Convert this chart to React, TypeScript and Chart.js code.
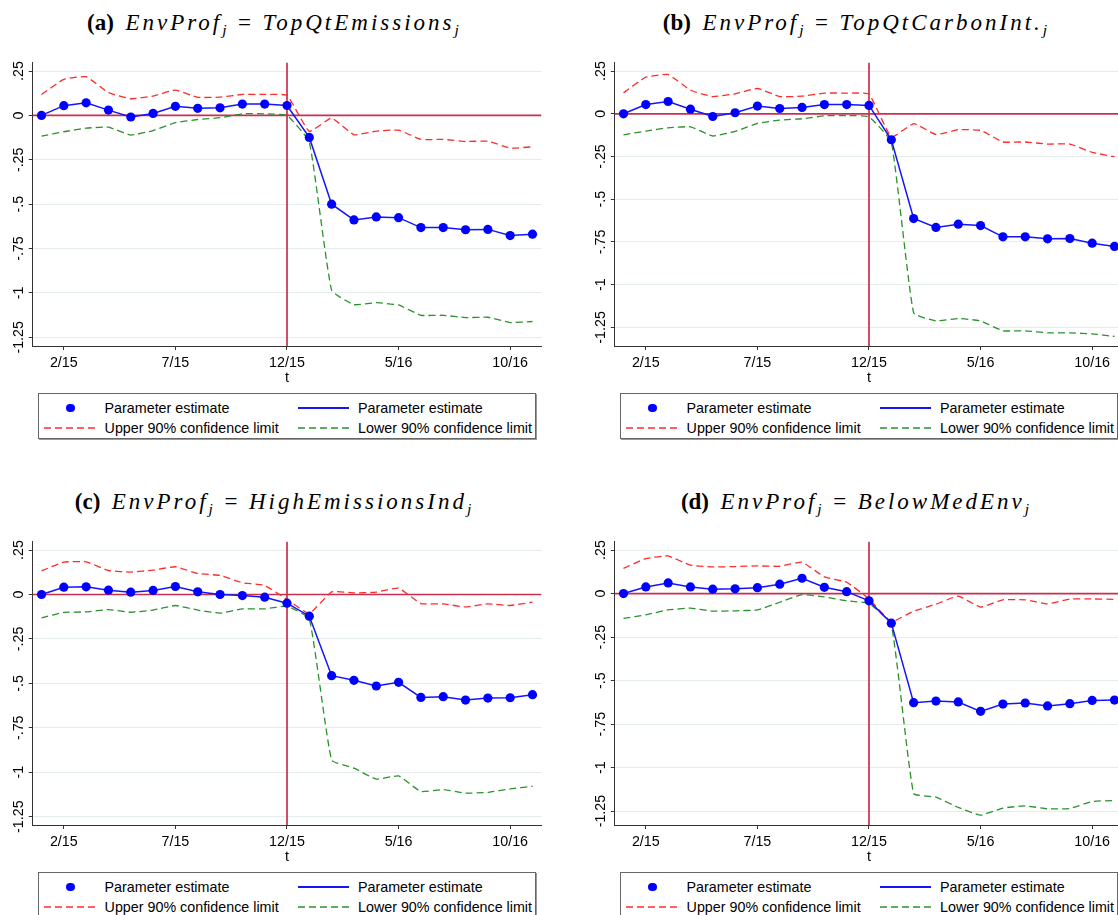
import React, { useEffect, useRef } from "react";
import { Chart, registerables } from "chart.js";

Chart.register(...registerables);

// ---------- categories / ticks ----------
const months = [
  "1/15", "2/15", "3/15", "4/15", "5/15", "6/15", "7/15", "8/15", "9/15", "10/15", "11/15", "12/15",
  "1/16", "2/16", "3/16", "4/16", "5/16", "6/16", "7/16", "8/16", "9/16", "10/16", "11/16",
];
const xTickMonths = ["2/15", "7/15", "12/15", "5/16", "10/16"];
const eventMonth = "12/15";
const zeroValue = 0;
const yTickValues = [0.25, 0, -0.25, -0.5, -0.75, -1, -1.25];
const yTickLabels = [".25", "0", "-.25", "-.5", "-.75", "-1", "-1.25"];
const xAxisTitle = "t";
const legendLabels = [
  "Parameter estimate",
  "Parameter estimate",
  "Upper 90% confidence limit",
  "Lower 90% confidence limit",
];

// ---------- panel (a) ----------
const estA = [0, 0.055, 0.071, 0.03, -0.009, 0.011, 0.051, 0.04, 0.043, 0.064, 0.064, 0.056, -0.124, -0.5, -0.589, -0.572, -0.576, -0.632, -0.632, -0.644, -0.642, -0.677, -0.669];
const upperA = [0.118, 0.203, 0.218, 0.128, 0.094, 0.109, 0.143, 0.102, 0.103, 0.118, 0.118, 0.113, -0.09, -0.015, -0.109, -0.088, -0.083, -0.135, -0.135, -0.147, -0.145, -0.184, -0.177];
const lowerA = [-0.117, -0.092, -0.072, -0.066, -0.111, -0.085, -0.041, -0.023, -0.013, 0.009, 0.009, 0.0, -0.15, -0.986, -1.066, -1.055, -1.068, -1.126, -1.126, -1.139, -1.137, -1.167, -1.161];

// ---------- panel (b) ----------
const estB = [0, 0.054, 0.072, 0.027, -0.016, 0.006, 0.045, 0.031, 0.037, 0.054, 0.054, 0.049, -0.152, -0.613, -0.665, -0.646, -0.654, -0.72, -0.72, -0.732, -0.73, -0.757, -0.776];
const upperB = [0.123, 0.214, 0.23, 0.138, 0.101, 0.117, 0.148, 0.101, 0.103, 0.121, 0.121, 0.115, -0.136, -0.058, -0.121, -0.093, -0.097, -0.165, -0.165, -0.177, -0.177, -0.226, -0.251];
const lowerB = [-0.123, -0.101, -0.082, -0.076, -0.13, -0.103, -0.056, -0.037, -0.029, -0.012, -0.01, -0.018, -0.166, -1.165, -1.212, -1.198, -1.212, -1.27, -1.27, -1.282, -1.282, -1.288, -1.303];

// ---------- panel (c) ----------
const estC = [0, 0.041, 0.043, 0.024, 0.013, 0.023, 0.045, 0.015, 0.0, -0.006, -0.015, -0.049, -0.122, -0.457, -0.483, -0.515, -0.494, -0.579, -0.575, -0.594, -0.583, -0.581, -0.564];
const upperC = [0.133, 0.182, 0.184, 0.135, 0.126, 0.137, 0.156, 0.118, 0.107, 0.066, 0.051, -0.028, -0.107, 0.015, 0.009, 0.013, 0.036, -0.051, -0.053, -0.07, -0.053, -0.062, -0.043];
const lowerC = [-0.132, -0.101, -0.098, -0.085, -0.1, -0.088, -0.062, -0.088, -0.105, -0.081, -0.081, -0.066, -0.137, -0.932, -0.977, -1.039, -1.021, -1.109, -1.098, -1.118, -1.113, -1.094, -1.079];

// ---------- panel (d) ----------
const estD = [0, 0.038, 0.061, 0.038, 0.025, 0.027, 0.034, 0.054, 0.088, 0.036, 0.011, -0.042, -0.17, -0.627, -0.618, -0.623, -0.677, -0.635, -0.629, -0.646, -0.633, -0.614, -0.612];
const upperD = [0.145, 0.201, 0.216, 0.163, 0.153, 0.155, 0.159, 0.157, 0.18, 0.096, 0.065, -0.031, -0.161, -0.101, -0.061, -0.015, -0.078, -0.036, -0.036, -0.059, -0.031, -0.031, -0.033];
const lowerD = [-0.143, -0.122, -0.094, -0.084, -0.101, -0.099, -0.094, -0.05, -0.006, -0.019, -0.042, -0.057, -0.179, -1.149, -1.17, -1.229, -1.273, -1.233, -1.22, -1.237, -1.235, -1.195, -1.189];

// ---------- panel descriptions ----------
const panelLetters = ["a", "b", "c", "d"];
const panelRhs = ["TopQtEmissions", "TopQtCarbonInt.", "HighEmissionsInd", "BelowMedEnv"];
const panelLhs = "EnvProf";
const panelSub = "j";
const panelEst = [estA, estB, estC, estD];
const panelUpper = [upperA, upperB, upperC, upperD];
const panelLower = [lowerA, lowerB, lowerC, lowerD];
const panelYMin = [-1.299, -1.359, -1.297, -1.33];
const panelYMax = [0.297, 0.299, 0.297, 0.298];

const SANS = '"Liberation Sans", Arial, Helvetica, sans-serif';
const SERIF = '"Liberation Serif", "Times New Roman", serif';
const TICK_SIZE = 14.3;

const BLUE = "#0000ff";
const RED = "#ff2b2b";
const GREEN = "#2a922a";
const REFLINE = "#c8304f";
const DASH = [7, 4];

const refLinesPlugin = {
  id: "refLines",
  beforeDatasetsDraw(chart: any) {
    const { ctx, chartArea, scales } = chart;
    const xs = scales.x;
    const ys = scales.y;
    const y0 = ys.getPixelForValue(zeroValue);
    const x0 = xs.getPixelForValue(months.indexOf(eventMonth));
    ctx.save();
    ctx.strokeStyle = REFLINE;
    ctx.lineWidth = 1.7;
    ctx.beginPath();
    ctx.moveTo(chartArea.left, y0);
    ctx.lineTo(chartArea.right, y0);
    ctx.stroke();
    ctx.beginPath();
    ctx.moveTo(x0, chartArea.top);
    ctx.lineTo(x0, chartArea.bottom);
    ctx.stroke();
    ctx.restore();
  },
};

function toPoints(vals: number[]) {
  return vals.map((v, i) => ({ x: i, y: v }));
}

function ChartPanel({ idx }: { idx: number }) {
  const ref = useRef<HTMLCanvasElement | null>(null);
  useEffect(() => {
    if (!ref.current) return;
    const xTickIdx = xTickMonths.map((m) => months.indexOf(m));
    const chart = new Chart(ref.current, {
      type: "line",
      data: {
        datasets: [
          {
            label: legendLabels[0],
            data: toPoints(panelEst[idx]),
            showLine: false,
            pointRadius: 4.6,
            pointBackgroundColor: BLUE,
            pointBorderWidth: 0,
            borderColor: BLUE,
            backgroundColor: BLUE,
          },
          {
            label: legendLabels[1],
            data: toPoints(panelEst[idx]),
            pointRadius: 0,
            borderColor: "#1414ff",
            borderWidth: 1.5,
            tension: 0,
          },
          {
            label: legendLabels[2],
            data: toPoints(panelUpper[idx]),
            pointRadius: 0,
            borderColor: RED,
            borderWidth: 1.3,
            borderDash: DASH,
            tension: 0.12,
          },
          {
            label: legendLabels[3],
            data: toPoints(panelLower[idx]),
            pointRadius: 0,
            borderColor: GREEN,
            borderWidth: 1.3,
            borderDash: DASH,
            tension: 0.12,
          },
        ],
      } as any,
      options: {
        animation: false,
        responsive: false,
        maintainAspectRatio: false,
        events: [],
        layout: { padding: { top: 7.7, right: 18.8, left: 0, bottom: 0 } },
        plugins: {
          legend: { display: false },
          tooltip: { enabled: false },
          title: { display: false },
        },
        scales: {
          x: {
            type: "linear",
            min: -0.39,
            max: 22.39,
            afterBuildTicks: (s: any) => {
              s.ticks = xTickIdx.map((v) => ({ value: v }));
            },
            afterFit: (s: any) => {
              s.height = 44;
            },
            ticks: {
              autoSkip: false,
              maxRotation: 0,
              minRotation: 0,
              padding: 4.9,
              color: "#000",
              font: { family: SANS, size: TICK_SIZE },
              callback: (v: any) => months[Number(v)],
            },
            grid: { drawOnChartArea: false, drawTicks: true, tickLength: 4, tickColor: "#333", lineWidth: 1 },
            border: { display: true, color: "#333", width: 1 },
            title: {
              display: true,
              text: xAxisTitle,
              color: "#000",
              font: { family: SANS, size: TICK_SIZE },
              padding: { top: 0, bottom: 3.7 },
            },
          },
          y: {
            type: "linear",
            min: panelYMin[idx],
            max: panelYMax[idx],
            afterBuildTicks: (s: any) => {
              s.ticks = yTickValues.map((v) => ({ value: v }));
            },
            afterFit: (s: any) => {
              s.width = 32.8;
            },
            ticks: {
              autoSkip: false,
              minRotation: 90,
              maxRotation: 90,
              crossAlign: "center",
              padding: -6.4,
              color: "#000",
              font: { family: SANS, size: TICK_SIZE },
              callback: (v: any) => {
                const k = yTickValues.indexOf(Number(v));
                return k >= 0 ? yTickLabels[k] : "";
              },
            },
            grid: { color: "#e4ecee", lineWidth: 1, drawTicks: true, tickLength: 4, tickColor: "#333" },
            border: { display: true, color: "#333", width: 1 },
          },
        },
      } as any,
      plugins: [refLinesPlugin],
    });
    return () => chart.destroy();
  }, [idx]);
  return (
    <canvas
      ref={ref}
      width={560}
      height={335}
      style={{ position: "absolute", left: 0, top: 55, width: 560, height: 335 }}
    />
  );
}

function DashSample({ color }: { color: string }) {
  return (
    <svg width={53} height={6} style={{ display: "block" }}>
      <line x1={0} y1={3} x2={53} y2={3} stroke={color} strokeWidth={1.4} strokeDasharray={DASH.join(" ")} />
    </svg>
  );
}

function Legend() {
  const text: React.CSSProperties = {
    position: "absolute",
    fontFamily: SANS,
    fontSize: TICK_SIZE,
    lineHeight: "16px",
    whiteSpace: "nowrap",
    color: "#000",
  };
  return (
    <div
      style={{
        position: "absolute",
        left: 38.2,
        top: 393.3,
        width: 496,
        height: 44,
        border: "1px solid #666",
        boxShadow: "1px 1px 0 #999",
        background: "#fff",
      }}
    >
      <div style={{ position: "absolute", left: 27.3, top: 9.4, width: 8.4, height: 8.4, borderRadius: "50%", background: BLUE }} />
      <div style={{ ...text, left: 65.4, top: 5.4 }}>{legendLabels[0]}</div>
      <div style={{ position: "absolute", left: 258.8, top: 12.8, width: 51, height: 1.5, background: "#1414ff" }} />
      <div style={{ ...text, left: 318.8, top: 5.4 }}>{legendLabels[1]}</div>
      <div style={{ position: "absolute", left: 4.7, top: 30.4 }}>
        <DashSample color={RED} />
      </div>
      <div style={{ ...text, left: 65.4, top: 25.4 }}>{legendLabels[2]}</div>
      <div style={{ position: "absolute", left: 258.8, top: 30.4 }}>
        <DashSample color={GREEN} />
      </div>
      <div style={{ ...text, left: 318.8, top: 25.4 }}>{legendLabels[3]}</div>
    </div>
  );
}

function Title({ idx }: { idx: number }) {
  const sub: React.CSSProperties = { fontSize: "0.68em", verticalAlign: "-0.3em", lineHeight: 0, letterSpacing: 0 };
  const ital: React.CSSProperties = { letterSpacing: "3px", fontWeight: 400 };
  return (
    <div
      style={{
        position: "absolute",
        left: 0,
        top: 8,
        width: 546,
        height: 30,
        lineHeight: "30px",
        textAlign: "center",
        fontFamily: SERIF,
        fontSize: 23,
        color: "#000",
        whiteSpace: "nowrap",
      }}
    >
      <b>({panelLetters[idx]})</b>
      {"\u2002"}
      <i style={ital}>
        {panelLhs}
        <sub style={sub}>{panelSub}</sub>
      </i>
      {"\u2002=\u2002"}
      <i style={ital}>
        {panelRhs[idx]}
        <sub style={sub}>{panelSub}</sub>
      </i>
    </div>
  );
}

function Panel({ idx, left, top }: { idx: number; left: number; top: number }) {
  return (
    <div style={{ position: "absolute", left, top, width: 560, height: 480 }}>
      <Title idx={idx} />
      <ChartPanel idx={idx} />
      <Legend />
    </div>
  );
}

export default function App() {
  return (
    <div
      style={{
        position: "absolute",
        left: 0,
        top: 0,
        width: 1118,
        height: 915,
        overflow: "hidden",
        background: "#fff",
      }}
    >
      <Panel idx={0} left={0} top={0} />
      <Panel idx={1} left={582} top={0} />
      <Panel idx={2} left={0} top={479} />
      <Panel idx={3} left={582} top={479} />
    </div>
  );
}
